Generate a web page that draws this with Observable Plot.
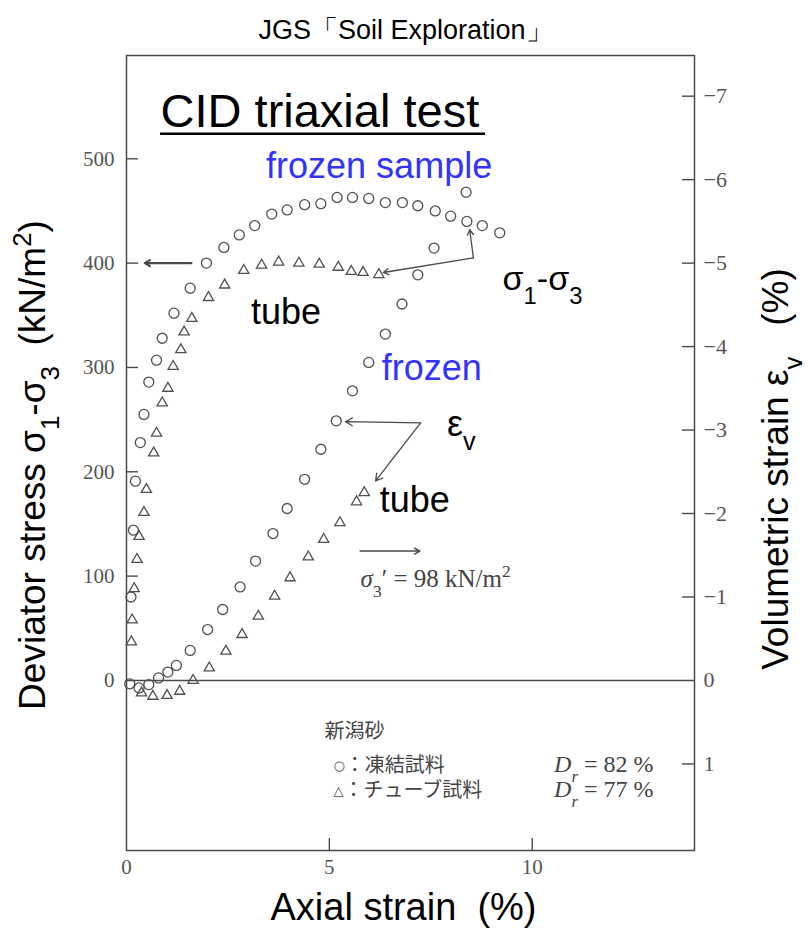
<!DOCTYPE html>
<html><head><meta charset="utf-8">
<script src="https://cdn.jsdelivr.net/npm/d3@7"></script>
<script src="https://cdn.jsdelivr.net/npm/@observablehq/plot@0.6"></script>
<style>body{margin:0;background:#fff}</style>
</head><body><div id="chart"></div>
<script>
// ---- data (axial strain %, deviator stress kN/m2, volumetric strain %) ----
const frozenStressX = [0.11,0.17,0.22,0.34,0.43,0.55,0.74,0.88,1.17,1.57,1.97,2.40,2.78,3.16,3.58,3.96,4.39,4.79,5.19,5.57,5.97,6.38,6.80,7.18,7.61,7.99,8.39,8.77,9.20];
const frozenStress  = [80,144,191,228,255,286,307,328,352,376,400,415,427,436,447,451,456,457,463,463,462,458,458,455,450,445,440,436,429];
const tubeStressX = [0.12,0.14,0.19,0.26,0.31,0.43,0.49,0.67,0.74,0.88,1.02,1.15,1.34,1.42,1.61,2.02,2.42,2.89,3.33,3.75,4.25,4.75,5.22,5.54,5.83,6.22];
const tubeStress  = [37,58,88,116,138,161,183,218,237,266,280,301,317,334,347,367,379,393,398,401,400,399,396,392,391,389];
const frozenVolX = [0.08,0.31,0.55,0.79,1.02,1.23,1.57,2.00,2.37,2.80,3.18,3.61,3.96,4.39,4.79,5.17,5.57,5.97,6.38,6.79,7.18,7.58,8.37];
const frozenVol  = [0.04,0.09,0.05,-0.03,-0.10,-0.18,-0.36,-0.61,-0.85,-1.12,-1.43,-1.76,-2.06,-2.41,-2.77,-3.11,-3.47,-3.81,-4.15,-4.51,-4.86,-5.18,-5.85];
const tubeVolX = [0.37,0.65,1.00,1.31,1.64,2.04,2.45,2.85,3.25,3.65,4.03,4.48,4.86,5.26,5.67,5.86];
const tubeVol  = [0.15,0.19,0.18,0.13,0.00,-0.15,-0.35,-0.55,-0.77,-1.01,-1.23,-1.48,-1.69,-1.89,-2.14,-2.25];

const xTicks = [0, 5, 10];
const leftTicks = [0, 100, 200, 300, 400, 500];
const rightTicks = [-7, -6, -5, -4, -3, -2, -1, 0, 1];

// annotation anchors in data units (axial strain %, deviator stress kN/m2)
const annTitle   = {text: "CID triaxial test", a: 0.84, s: 530, a2: 8.85, su: 524};
const annFrozenS = {text: "frozen sample", a: 3.44, s: 482};
const annTube1   = {text: "tube", a: 3.07, s: 342};
const annSigma   = {text: "σ_{1}-σ_{3}", a: 9.27, s: 374};
const annFrozen  = {text: "frozen", a: 6.29, s: 288};
const annEps     = {text: "ε_{v}", a: 7.90, s: 234};
const annTube2   = {text: "tube", a: 6.24, s: 161};
const annSig3    = {text: "*{σ}_{3}′ = 98 kN/m^{2}", a: 5.77, s: 90};
const legendJa   = [
  {text: "新潟砂", a: 4.88, s: -55},
  {text: "~{○}：凍結試料", a: 5.10, s: -88},
  {text: "~{△}：チューブ試料", a: 5.10, s: -112}
];
const legendDr = [
  {text: "*{D}_{*{r}} = 82 %", a: 10.54, s: -88},
  {text: "*{D}_{*{r}} = 77 %", a: 10.54, s: -112}
];
// arrows: stress-units arrows and volumetric-strain-units arrows
const arrowsStress = [
  {a1: 1.60, s1: 400, a2: 0.45, s2: 400, w: 2.2},
  {a1: 8.55, s1: 405, a2: 8.46, s2: 432, w: 1.3},
  {a1: 8.55, s1: 405, a2: 6.33, s2: 391, w: 1.3},
  {a1: 5.76, s1: 124, a2: 7.23, s2: 124, w: 1.6}
];
const arrowsVol = [
  {a1: 7.25, e1: -3.085, a2: 5.40, e2: -3.10},
  {a1: 7.25, e1: -3.085, a2: 6.14, e2: -2.39}
];

// right axis: 1 % volumetric strain occupies the height of 80 kN/m2 (compression positive, downward)
const K = 80;
const toS = e => -K * e;

const sans = "'Liberation Sans', Arial, Helvetica, sans-serif";
const serif = "'Liberation Serif', 'Times New Roman', serif";
const cjk = "'Noto Sans CJK JP', 'Noto Sans CJK SC', sans-serif";
const axisGray = "#4a4a4a";
const labelGray = "#555";
const dotGray = "#505050";
const blue = "#3333ff";

const frozenS = frozenStressX.map((a, i) => ({a, s: frozenStress[i]}));
const tubeS = tubeStressX.map((a, i) => ({a, s: tubeStress[i]}));
const frozenV = frozenVolX.map((a, i) => ({a, s: toS(frozenVol[i])}));
const tubeV = tubeVolX.map((a, i) => ({a, s: toS(tubeVol[i])}));

const xDom = [0, 14], yDom = [-163, 599];
const tickX = (xDom[1] - xDom[0]) * 12 / 568;   // 12px inward ticks
const tickY = (yDom[1] - yDom[0]) * 12 / 795;
const fmtE = v => { const e = Math.round(-v / K); return e < 0 ? "−" + Math.abs(e) : String(e); };

const chart = Plot.plot({
  width: 809, height: 939,
  marginLeft: 126, marginRight: 115, marginTop: 55, marginBottom: 89,
  x: {domain: xDom, axis: null},
  y: {domain: yDom, axis: null},
  style: {background: "white", fontFamily: sans, overflow: "visible"},
  marks: [
    Plot.frame({stroke: axisGray, strokeWidth: 1.5}),
    Plot.ruleY([0], {stroke: axisGray, strokeWidth: 1.5}),
    Plot.ruleY(leftTicks.filter(d => d !== 0), {y: d => d, x1: 0, x2: tickX, stroke: axisGray, strokeWidth: 1.4}),
    Plot.ruleY(rightTicks.filter(d => d !== 0).map(toS), {y: d => d, x1: xDom[1] - tickX, x2: xDom[1], stroke: axisGray, strokeWidth: 1.4}),
    Plot.ruleX(xTicks.filter(d => d !== 0), {x: d => d, y1: yDom[0], y2: yDom[0] + tickY, stroke: axisGray, strokeWidth: 1.4}),
    Plot.axisY(leftTicks, {anchor: "left", tickSize: 0, tickPadding: 12, fontSize: 21, fontFamily: serif, color: labelGray, label: null}),
    Plot.axisY(rightTicks.map(toS), {anchor: "right", tickSize: 0, tickPadding: 9, tickFormat: fmtE, fontSize: 22, fontFamily: serif, color: labelGray, label: null}),
    Plot.axisX(xTicks, {anchor: "bottom", tickSize: 0, tickPadding: 9, fontSize: 21, fontFamily: serif, color: labelGray, label: null}),

    Plot.dot(frozenS, {x: "a", y: "s", symbol: "circle", r: 5, stroke: dotGray, strokeWidth: 1.3, fill: "none"}),
    Plot.dot(frozenV, {x: "a", y: "s", symbol: "circle", r: 5, stroke: dotGray, strokeWidth: 1.3, fill: "none"}),
    Plot.dot(tubeS, {x: "a", y: "s", symbol: "triangle", r: 3.8, stroke: dotGray, strokeWidth: 1.3, fill: "none"}),
    Plot.dot(tubeV, {x: "a", y: "s", symbol: "triangle", r: 3.8, stroke: dotGray, strokeWidth: 1.3, fill: "none"}),

    Plot.arrow(arrowsStress, {x1: "a1", y1: "s1", x2: "a2", y2: "s2", stroke: axisGray, strokeWidth: d => d.w, headLength: 9}),
    Plot.arrow(arrowsVol, {x1: "a1", y1: d => toS(d.e1), x2: "a2", y2: d => toS(d.e2), stroke: axisGray, strokeWidth: 1.3, headLength: 9}),

    Plot.text([annTitle], {x: "a", y: "s", text: "text", textAnchor: "start", lineAnchor: "bottom", fontSize: 47, fill: "black"}),
    Plot.ruleY([annTitle], {y: "su", x1: "a", x2: "a2", stroke: "black", strokeWidth: 2.5}),
    Plot.text([annFrozenS, annFrozen], {x: "a", y: "s", text: "text", textAnchor: "start", lineAnchor: "bottom", fontSize: 36, fill: blue}),
    Plot.text([annTube1, annTube2, annEps], {x: "a", y: "s", text: "text", textAnchor: "start", lineAnchor: "bottom", fontSize: 36, fill: "black"}),
    Plot.text([annSigma], {x: "a", y: "s", text: "text", textAnchor: "start", lineAnchor: "bottom", fontSize: 34, fill: "black"}),
    Plot.text([annSig3], {x: "a", y: "s", text: "text", textAnchor: "start", lineAnchor: "bottom", fontSize: 25, fontFamily: serif, fill: "#444"}),
    Plot.text(legendJa, {x: "a", y: "s", text: "text", textAnchor: "start", lineAnchor: "bottom", fontSize: 20, fontFamily: cjk, fill: "#444"}),
    Plot.text(legendDr, {x: "a", y: "s", text: "text", textAnchor: "start", lineAnchor: "bottom", fontSize: 24, fontFamily: serif, fill: "#444"}),

    Plot.text(["JGS「Soil Exploration」"], {frameAnchor: "top", lineAnchor: "bottom", dy: -17, dx: -5, fontSize: 27, fill: "black"}),
    Plot.text(["Axial strain\u00a0\u00a0(%)"], {frameAnchor: "bottom", lineAnchor: "bottom", dy: 69, dx: -7, fontSize: 38, fill: "black"}),
    Plot.text(["Deviator stress σ_{1}-σ_{3}\u00a0\u00a0(kN/m^{2})"], {frameAnchor: "left", textAnchor: "middle", rotate: -90, dx: -93, dy: 12, fontSize: 37, fill: "black"}),
    Plot.text(["Volumetric strain ε_{v}\u00a0\u00a0\u00a0(%)"], {frameAnchor: "right", textAnchor: "middle", rotate: -90, dx: 82, dy: 16, fontSize: 37, fill: "black"})
  ]
});

// rich text: _{sub}, ^{sup}, *{italic}, ~{small symbol}
function richText(svg) {
  const NS = "http://www.w3.org/2000/svg";
  d3.select(svg).selectAll("text").each(function() {
    const el = this;
    if (el.childElementCount) return;
    const t = el.textContent;
    if (!/[_^*~]\{/.test(t)) return;
    el.textContent = "";
    let i = 0;
    function parse(parent) {
      let buf = "";
      const flush = () => { if (buf) { parent.appendChild(document.createTextNode(buf)); buf = ""; } };
      while (i < t.length) {
        const c = t[i];
        if ("_^*~".includes(c) && t[i + 1] === "{") {
          flush();
          i += 2;
          const ts = document.createElementNS(NS, "tspan");
          if (c === "_") { ts.setAttribute("baseline-shift", "sub"); ts.setAttribute("font-size", "70%"); }
          if (c === "^") { ts.setAttribute("baseline-shift", "super"); ts.setAttribute("font-size", "70%"); }
          if (c === "*") ts.setAttribute("font-style", "italic");
          if (c === "~") { ts.setAttribute("font-size", "65%"); ts.setAttribute("font-family", "'DejaVu Sans', sans-serif"); ts.setAttribute("baseline-shift", "2"); }
          parse(ts);
          parent.appendChild(ts);
        } else if (c === "}") {
          i++;
          flush();
          return;
        } else {
          buf += c; i++;
        }
      }
      flush();
    }
    parse(el);
  });
}
richText(chart);
document.getElementById("chart").append(chart);
</script>
</body></html>
